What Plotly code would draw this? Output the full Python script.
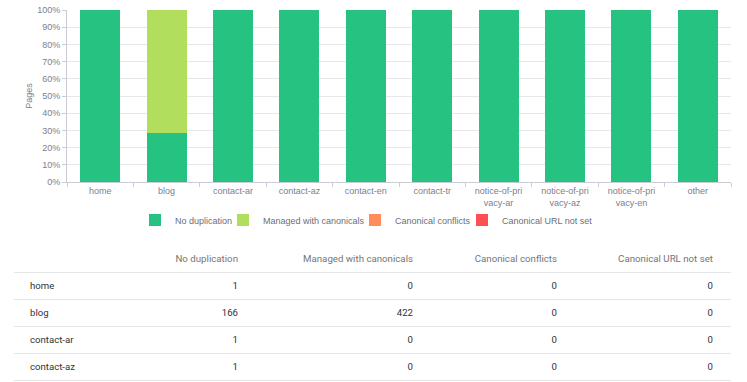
import plotly.graph_objects as go

categories = ["home", "blog", "contact-ar", "contact-az", "contact-en", "contact-tr",
              "notice-of-privacy-ar", "notice-of-privacy-az", "notice-of-privacy-en", "other"]
tick_labels = ["home", "blog", "contact-ar", "contact-az", "contact-en", "contact-tr",
               "notice-of-pri<br>vacy-ar", "notice-of-pri<br>vacy-az", "notice-of-pri<br>vacy-en", "other"]
no_duplication = [1, 166, 1, 1, 1, 1, 1, 1, 1, 1]
managed_canonicals = [0, 422, 0, 0, 0, 0, 0, 0, 0, 0]
canonical_conflicts = [0, 0, 0, 0, 0, 0, 0, 0, 0, 0]
canonical_not_set = [0, 0, 0, 0, 0, 0, 0, 0, 0, 0]

series_names = ["No duplication", "Managed with canonicals", "Canonical conflicts", "Canonical URL not set"]
series_values = [no_duplication, managed_canonicals, canonical_conflicts, canonical_not_set]
series_colors = ["#26C281", "#B1DF5D", "#FF8C5A", "#FF4F55"]

table_rows = 4
W, H = 747, 382

# legend text start positions (px) for the four separate legends
legend_text_x = [175, 263, 395, 502]
legend_ids = ["legend", "legend2", "legend3", "legend4"]

fig = go.Figure()
for name, vals, col, lid in zip(series_names, series_values, series_colors, legend_ids):
    fig.add_trace(go.Bar(x=categories, y=vals, name=name, marker=dict(color=col, line=dict(width=0)),
                         hoverinfo="skip", legend=lid))

# table
table_header = [""] + series_names
table_cols = [categories[:table_rows]] + [[str(v) for v in s[:table_rows]] for s in series_values]
fig.add_trace(go.Table(
    domain=dict(x=[22 / W, 721 / W], y=[0, (H - 246.5) / H]),
    columnwidth=[78, 146, 175, 144, 156],
    header=dict(values=table_header, align=["left", "right", "right", "right", "right"],
                fill_color="rgba(0,0,0,0)", line_color="rgba(0,0,0,0)",
                font=dict(family="Roboto", size=9.7, color="#757575"), height=27),
    cells=dict(values=table_cols, align=["left", "right", "right", "right", "right"],
               fill_color="rgba(0,0,0,0)", line_color="rgba(0,0,0,0)",
               font=dict(family="Roboto", size=9.6, color="#333333"), height=27),
))

shapes = []
for i in range(table_rows + 1):
    ypx = 272.5 + 27 * i
    shapes.append(dict(type="line", xref="paper", yref="paper", x0=14 / W, x1=731 / W,
                       y0=(H - ypx) / H, y1=(H - ypx) / H, line=dict(color="#e6e6e6", width=1),
                       layer="below"))

legend_layout = {}
for lid, tx in zip(legend_ids, legend_text_x):
    legend_layout[lid] = dict(orientation="h", x=(tx - 40) / W, xanchor="left",
                              y=(H - 220) / H, yanchor="middle", bgcolor="rgba(0,0,0,0)",
                              font=dict(size=9, color="#6b6f78"), itemclick=False,
                              itemdoubleclick=False, itemwidth=30)

fig.update_layout(
    width=W, height=H, margin=dict(l=0, r=0, t=0, b=0, autoexpand=False),
    paper_bgcolor="white", plot_bgcolor="white",
    barmode="stack", barnorm="percent", bargap=0.4,
    font=dict(family="Liberation Sans, Arial", color="#6b7280"),
    xaxis=dict(domain=[67 / W, 731 / W], tickmode="array", tickvals=categories, ticktext=tick_labels,
               ticks="outside", tickson="boundaries", ticklen=4, tickcolor="#c9ced6",
               showline=True, linecolor="#c9ced6", linewidth=1, tickfont=dict(size=9, color="#7a8190"),
               showgrid=False, fixedrange=True, automargin=False),
    yaxis=dict(domain=[(H - 182) / H, (H - 10) / H], range=[0, 100], dtick=10, ticksuffix="%",
               ticks="outside", ticklen=4, tickcolor="#c9ced6", showline=True, linecolor="#c9ced6",
               gridcolor="#e6e8ec", tickfont=dict(size=9, color="#7a8190"), zeroline=False,
               title=dict(text="Pages", font=dict(size=9, color="#7a8190"), standoff=3),
               fixedrange=True, automargin=False),
    shapes=shapes,
    showlegend=True,
    **legend_layout,
)

fig.write_html("out.html", config={"displayModeBar": False},
               post_script="document.body.style.margin='0px';")
